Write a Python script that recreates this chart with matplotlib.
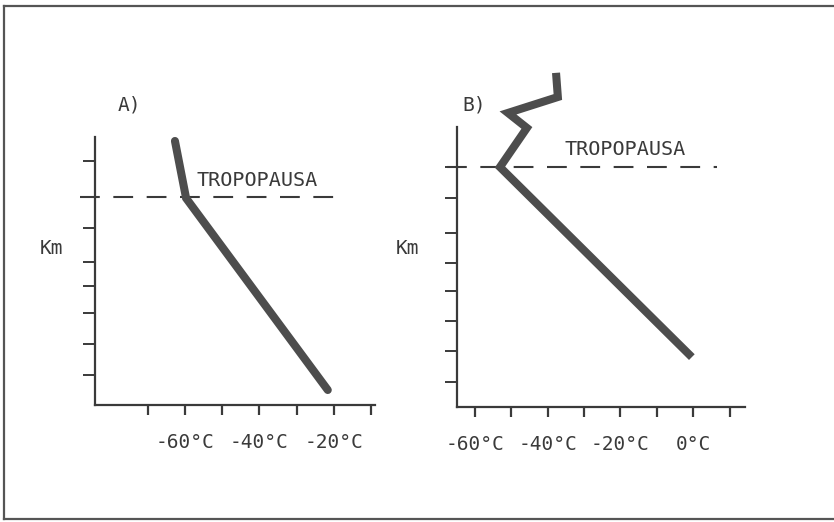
import matplotlib
matplotlib.use("Agg")
import matplotlib.pyplot as plt
from matplotlib.lines import Line2D

# ---- data ----
a_temp = [-62.7, -59.7, -21.6]
a_alt = [8.63, 6.76, 0.49]
a_tropo = 6.8
a_yticks = [0.98, 1.99, 3.0, 3.89, 4.67, 5.78, 6.8, 7.97]
a_xticks = [-70, -60, -50, -40, -30, -20, -10]
a_xlabels = ["", "-60°C", "", "-40°C", "", "-20°C", ""]

b_temp = [-37.7, -37.2, -50.9, -45.7, -53.1, -0.4]
b_alt = [10.92, 10.13, 9.61, 9.12, 7.84, 1.63]
b_tropo = 7.84
b_yticks = [0.82, 1.83, 2.81, 3.79, 4.71, 5.69, 6.83, 7.84]
b_xticks = [-60, -50, -40, -30, -20, -10, 0, 10]
b_xlabels = ["-60°C", "", "-40°C", "", "-20°C", "", "0°C", ""]

W, H = 834, 522
fig = plt.figure(figsize=(W / 100, H / 100), dpi=100)
fig.patch.set_facecolor("white")

FONT = "DejaVu Sans Mono"
AX_C = "#3a3a3a"
LINE_C = "#4d4d4d"
TXT_C = "#3a3a3a"


def px_axes(x0, y0, x1, y1):
    return fig.add_axes([x0 / W, 1 - y1 / H, (x1 - x0) / W, (y1 - y0) / H])


def style(ax, xlim, ylim, xticks, xlabels, yticks):
    ax.set_xlim(*xlim)
    ax.set_ylim(*ylim)
    ax.patch.set_alpha(0)
    for s in ("top", "right"):
        ax.spines[s].set_visible(False)
    for s in ("left", "bottom"):
        ax.spines[s].set_color(AX_C)
        ax.spines[s].set_linewidth(1.6)
    ax.set_xticks(xticks, xlabels)
    ax.set_yticks(yticks, [""] * len(yticks))
    ax.tick_params(axis="x", direction="out", length=7, width=1.6, color=AX_C,
                   pad=13, labelsize=14, labelcolor=TXT_C)
    ax.tick_params(axis="y", direction="out", length=8.5, width=1.4, color=AX_C)
    for t in ax.get_xticklabels():
        t.set_fontfamily(FONT)


# Panel A
axA = px_axes(95, 137, 375, 405)
style(axA, (-84.2, -8.9), (0, 8.76), a_xticks, a_xlabels, a_yticks)
axA.plot(a_temp, a_alt, color=LINE_C, lw=5.8, solid_joinstyle="miter",
         solid_capstyle="round", clip_on=False, zorder=3)
axA.plot([-88.2, -17.8], [a_tropo, a_tropo], color=AX_C, lw=1.5,
         dashes=(9.5, 6.5), clip_on=False)
axA.text(-56.8, 7.35, "TROPOPAUSA", family=FONT, fontsize=14.5, color=TXT_C,
         ha="left", va="center")

# Panel B
axB = px_axes(457, 127, 745, 407)
style(axB, (-64.9, 14.2), (0, 9.15), b_xticks, b_xlabels, b_yticks)
axB.plot(b_temp, b_alt, color=LINE_C, lw=5.8, solid_joinstyle="miter",
         solid_capstyle="butt", clip_on=False, zorder=3)
axB.plot([-67.7, 6.5], [b_tropo, b_tropo], color=AX_C, lw=1.5,
         dashes=(9.5, 6.5), clip_on=False)
axB.text(-35.3, 8.40, "TROPOPAUSA", family=FONT, fontsize=14.5, color=TXT_C,
         ha="left", va="center")


def ftext(x, y, s, **kw):
    fig.text(x / W, 1 - y / H, s, family=FONT, color=TXT_C, **kw)


ftext(118, 105, "A)", fontsize=14, ha="left", va="center")
ftext(462, 105, "B)", fontsize=14, ha="left", va="center")
ftext(40, 248, "Km", fontsize=14, ha="left", va="center")
ftext(396, 248, "Km", fontsize=14, ha="left", va="center")

# outer frame (top, left, bottom)
frame_c = "#555555"
fig.add_artist(Line2D([4 / W, 1], [1 - 6 / H, 1 - 6 / H], color=frame_c, lw=1.6))
fig.add_artist(Line2D([4 / W, 4 / W], [1 - 6 / H, 1 - 519 / H], color=frame_c, lw=1.6))
fig.add_artist(Line2D([4 / W, 1], [1 - 519 / H, 1 - 519 / H], color=frame_c, lw=1.6))

fig.savefig("out.png", dpi=100)
